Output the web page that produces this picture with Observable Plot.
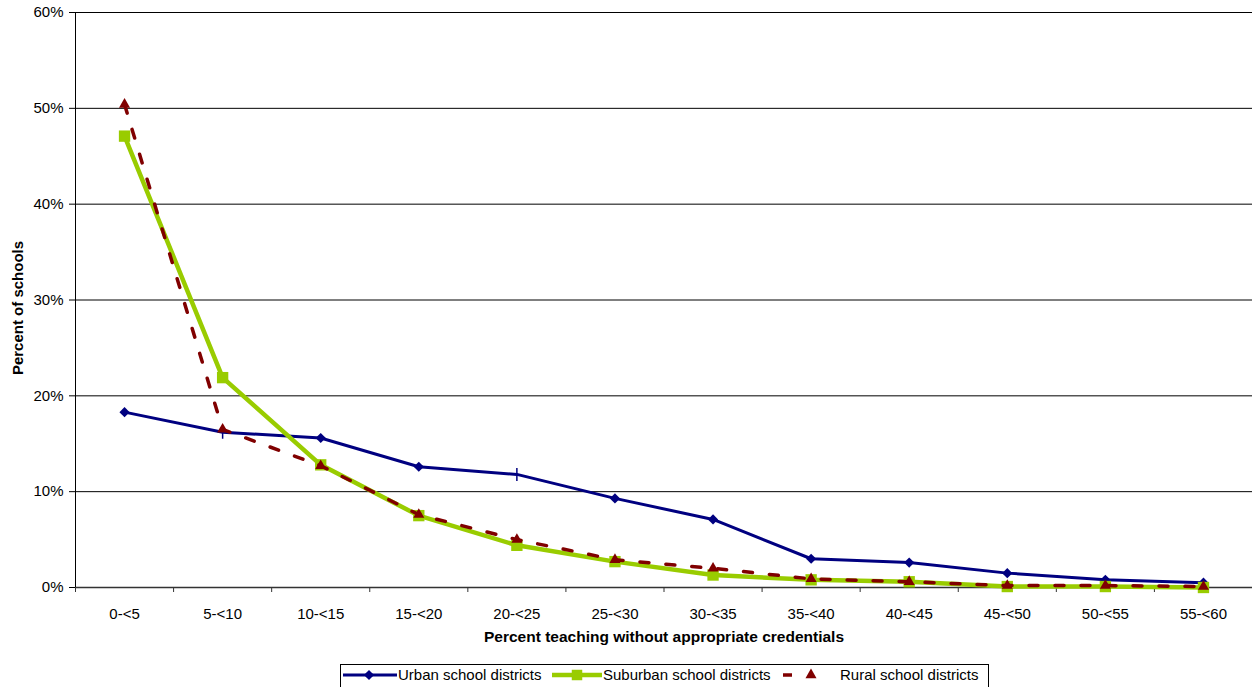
<!DOCTYPE html>
<html>
<head>
<meta charset="utf-8">
<script src="https://cdn.jsdelivr.net/npm/d3@7"></script>
<script src="https://cdn.jsdelivr.net/npm/@observablehq/plot@0.6"></script>
<style>
  body { margin: 0; background: #fff; font-family: "Liberation Sans", Arial, sans-serif; }
  #legend svg, #chart svg { display: block; }
</style>
</head>
<body>
<div id="chart"></div>
<div id="legend"></div>
<script>
// Share of schools by percent of teachers lacking appropriate credentials
const categories = ["0-<5", "5-<10", "10-<15", "15-<20", "20-<25", "25-<30",
                    "30-<35", "35-<40", "40-<45", "45-<50", "50-<55", "55-<60"];
const urban    = [18.3, 16.2, 15.6, 12.6, 11.8, 9.3, 7.1, 3.0, 2.6, 1.5, 0.8, 0.5];
const suburban = [47.1, 21.9, 12.8, 7.5, 4.4, 2.7, 1.3, 0.8, 0.6, 0.1, 0.1, 0.0];
const rural    = [50.4, 16.5, 12.7, 7.6, 5.0, 2.9, 2.0, 0.9, 0.6, 0.2, 0.2, 0.1];
const seriesNames = ["Urban school districts", "Suburban school districts", "Rural school districts"];
const yTicks = [0, 10, 20, 30, 40, 50, 60];
const xTitle = "Percent teaching without appropriate credentials";
const yTitle = "Percent of schools";

const navy = "#000080", lime = "#99CC00", maroon = "#800000";
const rows = vals => vals.map((v, i) => ({i, v}));
const idx = categories.map((_, i) => i);
const boundaries = d3.range(-0.5, categories.length, 1);

// urban points drawn with a plain vertical stroke instead of a diamond
const urbanBarPoints = new Set([1, 4]);
const vbar = {draw(ctx) { ctx.moveTo(0, -6.5); ctx.lineTo(0, 6.5); }};

const chart = Plot.plot({
  width: 1252,
  height: 660,
  marginLeft: 75,
  marginRight: 0,
  marginTop: 12,
  marginBottom: 73,
  style: {fontFamily: "'Liberation Sans', Arial, sans-serif", fontSize: "15px", color: "#000", background: "#fff"},
  x: {type: "linear", domain: [-0.5, categories.length - 0.5], label: null},
  y: {domain: [0, 60], label: null},
  marks: [
    Plot.ruleY(yTicks.slice(1), {stroke: "#000", strokeWidth: 1}),
    Plot.ruleY([0], {stroke: "#333", strokeWidth: 1.5}),
    Plot.ruleX([-0.5], {stroke: "#000", strokeWidth: 1}),
    Plot.axisY(yTicks, {tickSize: 6, tickFormat: () => "", label: null, stroke: "#000"}),
    Plot.text(yTicks, {y: d => d, frameAnchor: "left", dx: -12, textAnchor: "end", text: d => d + "%", fontSize: 15}),
    Plot.axisX(boundaries, {tickSize: 5, tickFormat: () => "", label: null, stroke: "#333"}),
    Plot.text(idx, {x: d => d, frameAnchor: "bottom", dy: 27, text: d => categories[d], lineAnchor: "middle", fontSize: 15}),
    Plot.text([xTitle], {frameAnchor: "bottom", dy: 50, fontWeight: "bold", lineAnchor: "middle", textAnchor: "middle", fontSize: 15.5}),
    Plot.text([yTitle], {frameAnchor: "left", dx: -57, dy: 8, rotate: -90, fontWeight: "bold", lineAnchor: "middle", textAnchor: "middle", fontSize: 15}),

    // Urban
    Plot.line(rows(urban), {x: "i", y: "v", stroke: navy, strokeWidth: 3}),
    Plot.dot(rows(urban).filter(d => !urbanBarPoints.has(d.i)), {x: "i", y: "v", symbol: "diamond2", r: 4.6, fill: navy, stroke: "none"}),
    Plot.dot(rows(urban).filter(d => urbanBarPoints.has(d.i)), {x: "i", y: "v", symbol: vbar, r: 4, fill: "none", stroke: navy, strokeWidth: 1.5}),

    // Suburban
    Plot.line(rows(suburban), {x: "i", y: "v", stroke: lime, strokeWidth: 4.5}),
    Plot.dot(rows(suburban), {x: "i", y: "v", symbol: "square", r: 6.4, fill: lime, stroke: "none"}),

    // Rural
    Plot.line(rows(rural), {x: "i", y: "v", stroke: maroon, strokeWidth: 3.5, strokeDasharray: "9,17"}),
    Plot.dot(rows(rural), {x: "i", y: "v", symbol: "triangle", r: 4.1, fill: maroon, stroke: "none"})
  ]
});
document.getElementById("chart").append(chart);

// Legend box below the chart
const lg = d3.select("#legend").append("svg").attr("width", 1252).attr("height", 30)
  .style("font-family", "'Liberation Sans', Arial, sans-serif").style("font-size", "15px");
lg.append("rect").attr("x", 340.5).attr("y", 4.5).attr("width", 648).attr("height", 40)
  .attr("fill", "#fff").attr("stroke", "#000");
const cy = 15;
// urban swatch
lg.append("line").attr("x1", 343).attr("x2", 397).attr("y1", cy).attr("y2", cy).attr("stroke", navy).attr("stroke-width", 3);
lg.append("path").attr("d", d3.symbol(d3.symbolDiamond2, 66)()).attr("transform", `translate(369,${cy})`).attr("fill", navy);
lg.append("text").attr("x", 398).attr("y", cy).attr("dy", "0.35em").text(seriesNames[0]);
// suburban swatch
lg.append("line").attr("x1", 552).attr("x2", 602).attr("y1", cy).attr("y2", cy).attr("stroke", lime).attr("stroke-width", 4.5);
lg.append("path").attr("d", d3.symbol(d3.symbolSquare, 110)()).attr("transform", `translate(577,${cy})`).attr("fill", lime);
lg.append("text").attr("x", 603).attr("y", cy).attr("dy", "0.35em").text(seriesNames[1]);
// rural swatch
lg.append("line").attr("x1", 783).attr("x2", 792).attr("y1", cy).attr("y2", cy).attr("stroke", maroon).attr("stroke-width", 3.5);
lg.append("path").attr("d", d3.symbol(d3.symbolTriangle, 53)()).attr("transform", `translate(811,${cy})`).attr("fill", maroon);
lg.append("text").attr("x", 840).attr("y", cy).attr("dy", "0.35em").text(seriesNames[2]);
</script>
</body>
</html>
